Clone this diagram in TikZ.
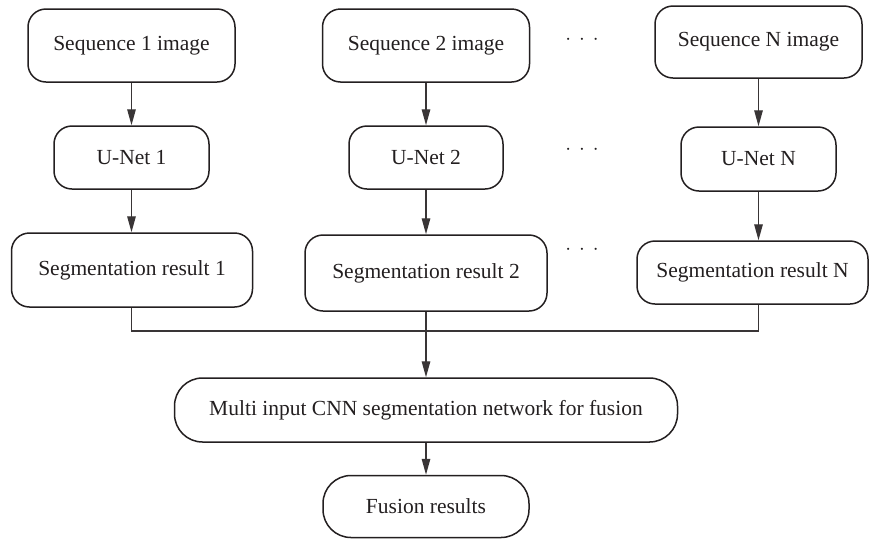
\documentclass[tikz,border=0pt]{standalone}
\usepackage{fontspec}
\setmainfont{Liberation Serif}
\usetikzlibrary{arrows.meta}
\definecolor{ink}{HTML}{231F20}
\tikzset{
  box/.style={draw=ink, line width=1.5pt, rounded corners=18pt, inner sep=0pt,
    text=ink, font=\fontsize{21.5}{25}\selectfont, align=center},
  pill/.style={box, rounded corners=28pt},
  link/.style={draw=ink!90, line width=1.4pt},
  arrowlink/.style={link, -{Triangle[length=16pt,width=8.5pt]}},
  dots/.style={text=ink, font=\fontsize{20.5}{24}\selectfont, inner sep=0pt}
}
\begin{document}
\begin{tikzpicture}[x=1pt,y=-1pt]
\useasboundingbox (0,0) rectangle (869,539);

% input images
\node[box, minimum width=207pt, minimum height=73pt] (seq1) at (131.5,45.5) {Sequence 1 image};
\node[box, minimum width=207pt, minimum height=73pt] (seq2) at (426,45.5) {Sequence 2 image};
\node[box, minimum width=207pt, minimum height=72pt] (seqN) at (758.5,42) {Sequence N image};

% per-sequence networks
\node[box, minimum width=155pt, minimum height=63pt] (un1) at (131.5,157.5) {U-Net 1};
\node[box, minimum width=154pt, minimum height=63pt] (un2) at (426,157.5) {U-Net 2};
\node[box, minimum width=155pt, minimum height=64pt] (unN) at (758.5,159) {U-Net N};

% per-sequence results
\node[box, minimum width=241pt, minimum height=74pt] (seg1) at (132,270) {Segmentation result 1};
\node[box, minimum width=242pt, minimum height=76pt] (seg2) at (426,273) {Segmentation result 2};
\node[box, minimum width=231pt, minimum height=63pt] (segN) at (752.5,272.5) {Segmentation result N};

% fusion stage
\node[pill, minimum width=503pt, minimum height=64pt] (multi) at (426,410) {Multi input CNN segmentation network for fusion};
\node[pill, minimum width=206pt, minimum height=62pt] (fus) at (426,506.5) {Fusion results};

% ellipses between columns
\node[dots] (d1) at (582,40) {$\cdot\,\cdot\,\cdot$};
\node[dots] (d2) at (582,150) {$\cdot\,\cdot\,\cdot$};
\node[dots] (d3) at (582,250) {$\cdot\,\cdot\,\cdot$};

% vertical flows
\draw[arrowlink] (seq1.south) -- (un1.north);
\draw[arrowlink] (seq2.south) -- (un2.north);
\draw[arrowlink] (seqN.south) -- (unN.north);
\draw[arrowlink] (un1.south) -- (un1.south |- seg1.north);
\draw[arrowlink] (un2.south) -- (un2.south |- seg2.north);
\draw[arrowlink] (unN.south) -- (unN.south |- segN.north);

% collecting bus
\coordinate (bus) at (426,331);
\coordinate (busL) at (un1.south |- bus);
\coordinate (busR) at (unN.south |- bus);
\draw[link] (un1.south |- seg1.south) -- (busL) -- (busR) -- (unN.south |- segN.south);
\draw[arrowlink] (seg2.south) -- (multi.north);
\draw[arrowlink] (multi.south) -- (fus.north);
\end{tikzpicture}
\end{document}
